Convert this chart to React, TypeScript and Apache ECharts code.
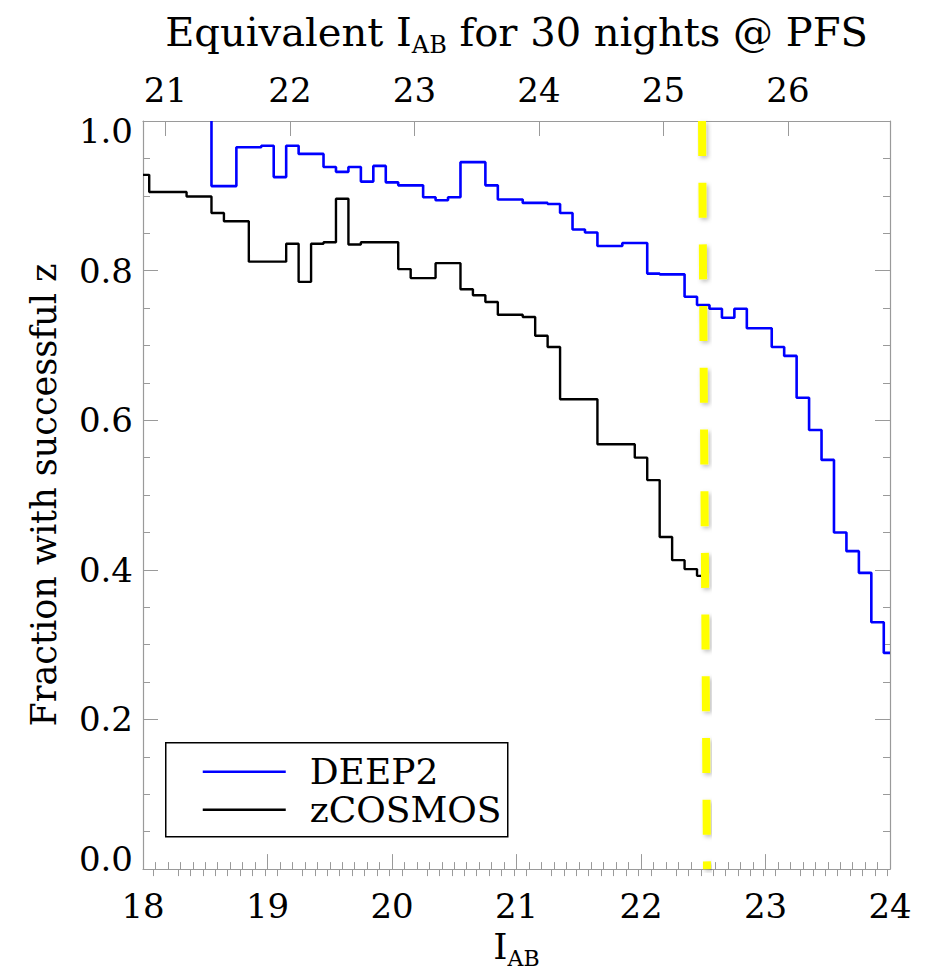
import React, { useEffect, useRef } from "react";
import * as echarts from "echarts";

// DEEP2 step histogram: bin edges (n+1) and fraction values (n)
const DEEP2_EDGES = [
  18.55, 18.55, 18.75, 18.95, 19.05, 19.15, 19.25, 19.45, 19.55, 19.65, 19.75, 19.85, 19.95,
  20.05, 20.25, 20.35, 20.45, 20.55, 20.75, 20.85, 21.05, 21.25, 21.35, 21.45, 21.55, 21.65,
  21.85, 22.05, 22.15, 22.35, 22.45, 22.55, 22.65, 22.75, 22.85, 23.05, 23.15, 23.25, 23.35,
  23.45, 23.55, 23.65, 23.75, 23.85, 23.95, 24.0,
];
const DEEP2_VALUES = [
  1.0, 0.913, 0.965, 0.967, 0.925, 0.967, 0.956, 0.9385, 0.932, 0.9385, 0.919, 0.94, 0.918,
  0.914, 0.898, 0.894, 0.898, 0.945, 0.914, 0.895, 0.8905, 0.889, 0.877, 0.855, 0.851, 0.833,
  0.837, 0.796, 0.795, 0.765, 0.754, 0.749, 0.737, 0.749, 0.723, 0.698, 0.686, 0.63, 0.587,
  0.547, 0.45, 0.425, 0.396, 0.33, 0.289,
];

// zCOSMOS step histogram
const ZCOSMOS_EDGES = [
  18.0, 18.05, 18.35, 18.55, 18.65, 18.85, 19.15, 19.25, 19.35, 19.45, 19.55, 19.65, 19.75,
  20.05, 20.15, 20.35, 20.55, 20.65, 20.75, 20.85, 21.05, 21.15, 21.25, 21.35, 21.65, 21.95,
  22.05, 22.15, 22.25, 22.35, 22.45, 22.5,
];
const ZCOSMOS_VALUES = [
  0.928, 0.905, 0.899, 0.877, 0.866, 0.812, 0.836, 0.785, 0.836, 0.838, 0.896, 0.835, 0.838,
  0.802, 0.79, 0.81, 0.775, 0.767, 0.758, 0.741, 0.738, 0.713, 0.698, 0.628, 0.568, 0.55,
  0.52, 0.444, 0.413, 0.401, 0.392,
];

// yellow dashed limit line
const LIMIT_X = [22.49, 22.53];
const LIMIT_Y = [1.0, 0.0];

// axes
const X_MIN = 18;
const X_MAX = 24;
const TOP_OFFSET = 2.82; // equivalent I_AB for 30 nights @ PFS = I_AB + offset
const TOP_TICK_LABELS = [21, 22, 23, 24, 25, 26];

const FONT = "DejaVu Serif";

function stepData(edges: number[], values: number[]) {
  const d: number[][] = values.map((v, i) => [edges[i], v]);
  d.push([edges[edges.length - 1], values[values.length - 1]]);
  return d;
}

export default function App() {
  const ref = useRef<HTMLDivElement>(null);
  useEffect(() => {
    if (!ref.current) return;
    const chart = echarts.init(ref.current, undefined, { renderer: "svg" });
    const gray = "#9a9a9a";
    const topMin = X_MIN + TOP_OFFSET;
    const topMax = X_MAX + TOP_OFFSET;
    const topMinor: number[] = [];
    for (let k = Math.ceil(topMin * 10); k <= Math.floor(topMax * 10); k++) {
      if (k % 10 !== 0) topMinor.push(k / 10);
    }
    const labelStyle = { fontFamily: FONT, fontSize: 34, color: "#000" };
    const option: any = {
      animation: false,
      grid: { left: 143, right: 36, top: 121, bottom: 101, containLabel: false },
      xAxis: [
        {
          type: "value",
          position: "bottom",
          min: X_MIN,
          max: X_MAX,
          interval: 1,
          axisLine: { show: true, onZero: false, lineStyle: { color: gray, width: 1.2 } },
          axisTick: { show: true, inside: true, length: 15, lineStyle: { color: gray, width: 1 } },
          minorTick: { show: true, splitNumber: 10, length: 7, lineStyle: { color: gray, width: 1 } },
          splitLine: { show: false },
          axisLabel: { ...labelStyle, margin: 20 },
          name: "{m|I}{s|AB}",
          nameLocation: "middle",
          nameGap: 50,
          nameTextStyle: {
            ...labelStyle,
            fontSize: 36,
            rich: {
              m: { fontFamily: FONT, fontSize: 36, color: "#000" },
              s: { fontFamily: FONT, fontSize: 22, color: "#000", padding: [24, 0, 0, 0] },
            },
          },
        },
        {
          type: "value",
          position: "top",
          min: topMin,
          max: topMax,
          axisLine: { show: true, onZero: false, lineStyle: { color: gray, width: 1.2 } },
          axisTick: {
            show: true,
            inside: true,
            length: 15,
            customValues: TOP_TICK_LABELS,
            lineStyle: { color: gray, width: 1 },
          },
          splitLine: { show: false },
          axisLabel: { ...labelStyle, margin: 14, customValues: TOP_TICK_LABELS },
          name: "{m|Equivalent I}{s|AB}{m| for 30 nights @ PFS}",
          nameLocation: "middle",
          nameGap: 64,
          nameTextStyle: {
            ...labelStyle,
            fontSize: 40,
            rich: {
              m: { fontFamily: FONT, fontSize: 40, color: "#000" },
              s: { fontFamily: FONT, fontSize: 24, color: "#000", padding: [26, 0, 0, 0] },
            },
          },
        },
        {
          type: "value",
          position: "top",
          min: topMin,
          max: topMax,
          axisLine: { show: false },
          axisTick: {
            show: true,
            inside: true,
            length: 7,
            customValues: topMinor,
            lineStyle: { color: gray, width: 1 },
          },
          splitLine: { show: false },
          axisLabel: { show: false },
        },
      ],
      yAxis: [
        {
          type: "value",
          position: "left",
          min: 0,
          max: 1,
          interval: 0.2,
          axisLine: { show: true, onZero: false, lineStyle: { color: gray, width: 1.2 } },
          axisTick: { show: true, inside: true, length: 15, lineStyle: { color: gray, width: 1 } },
          minorTick: { show: true, splitNumber: 4, length: 7, lineStyle: { color: gray, width: 1 } },
          splitLine: { show: false },
          axisLabel: {
            ...labelStyle,
            margin: 10,
            formatter: (v: number) => {
              const s = v.toFixed(1);
              if (v >= 0.999) return "{hi|" + s + "}";
              if (v <= 0.001) return "{lo|" + s + "}";
              return s;
            },
            rich: {
              hi: { ...labelStyle, padding: [20, 0, 0, 0] },
              lo: { ...labelStyle, padding: [0, 0, 20, 0] },
            },
          },
          name: "Fraction with successful z",
          nameLocation: "middle",
          nameGap: 82,
          nameTextStyle: { ...labelStyle, fontSize: 35 },
        },
        {
          type: "value",
          position: "right",
          min: 0,
          max: 1,
          interval: 0.2,
          axisLine: { show: true, onZero: false, lineStyle: { color: gray, width: 1.2 } },
          axisTick: { show: true, inside: true, length: 15, lineStyle: { color: gray, width: 1 } },
          minorTick: { show: true, splitNumber: 4, length: 7, lineStyle: { color: gray, width: 1 } },
          splitLine: { show: false },
          axisLabel: { show: false },
        },
      ],
      series: [
        {
          name: "DEEP2",
          type: "line",
          step: "end",
          data: stepData(DEEP2_EDGES, DEEP2_VALUES),
          showSymbol: false,
          symbol: "none",
          clip: true,
          lineStyle: { color: "#0000ff", width: 2.6 },
          z: 3,
        },
        {
          name: "zCOSMOS",
          type: "line",
          step: "end",
          data: stepData(ZCOSMOS_EDGES, ZCOSMOS_VALUES),
          showSymbol: false,
          symbol: "none",
          clip: true,
          lineStyle: { color: "#000000", width: 2.4 },
          z: 3,
        },
        {
          name: "limit",
          type: "line",
          data: LIMIT_X.map((x, i) => [x, LIMIT_Y[i]]),
          showSymbol: false,
          symbol: "none",
          clip: true,
          lineStyle: {
            color: "#ffff00",
            width: 8,
            type: [35, 26.7],
            cap: "butt",
            shadowColor: "rgba(0,0,0,0.25)",
            shadowBlur: 4,
            shadowOffsetX: 2,
            shadowOffsetY: 2,
          },
          z: 5,
        },
      ],
      graphic: [
        {
          type: "group",
          left: 165,
          top: 742,
          children: [
            {
              type: "rect",
              shape: { x: 0, y: 0, width: 342, height: 94 },
              style: { fill: "#fff", stroke: "#000", lineWidth: 1.5 },
            },
            {
              type: "line",
              shape: { x1: 37, y1: 29, x2: 120, y2: 29 },
              style: { stroke: "#0000ff", lineWidth: 2.6 },
            },
            {
              type: "line",
              shape: { x1: 37, y1: 67, x2: 120, y2: 67 },
              style: { stroke: "#000", lineWidth: 2.4 },
            },
            {
              type: "text",
              x: 144,
              y: 29,
              style: {
                text: "DEEP2",
                fontFamily: FONT,
                fontSize: 36,
                fill: "#000",
                verticalAlign: "middle",
                align: "left",
              },
            },
            {
              type: "text",
              x: 144,
              y: 67,
              style: {
                text: "zCOSMOS",
                fontFamily: FONT,
                fontSize: 36,
                fill: "#000",
                verticalAlign: "middle",
                align: "left",
              },
            },
          ],
          z: 10,
        },
      ],
    };
    chart.setOption(option);
    return () => chart.dispose();
  }, []);
  return (
    <div
      ref={ref}
      style={{ position: "absolute", left: 0, top: 0, width: 926, height: 974, background: "#fff" }}
    />
  );
}
